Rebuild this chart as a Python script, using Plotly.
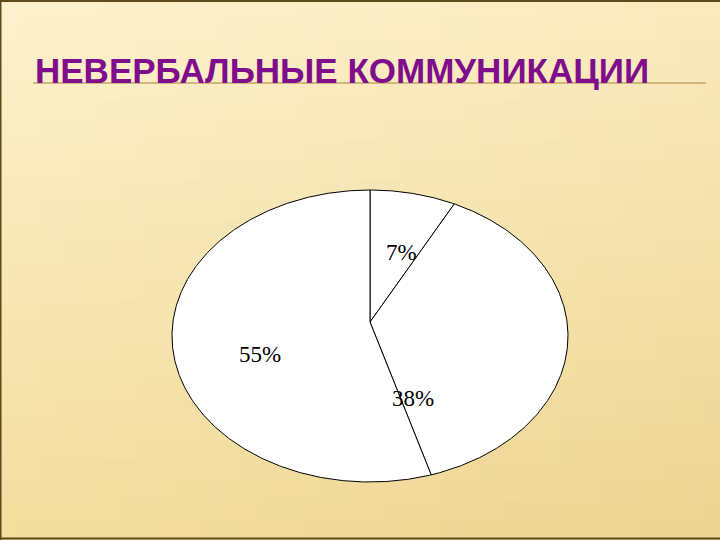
import numpy as np
import plotly.graph_objects as go

# ---- data ----
slice_labels = ["7%", "38%", "55%"]
slice_values = [7, 38, 55]
title_text = "НЕВЕРБАЛЬНЫЕ КОММУНИКАЦИИ"

# ---- geometry / style ----
W, H = 720, 540
CX, CY, RX, RY = 370, 336, 198, 146   # ellipse centre & radii in pixels
APEX_DY = 14                          # pie apex sits slightly above ellipse centre (perspective)


def px2x(px):
    return (px - CX) / RX


def py2y(py):
    return (CY - py) / RY


fig = go.Figure()

# slices, clockwise from 12 o'clock
cum = np.concatenate([[0], np.cumsum(slice_values)]) / sum(slice_values) * 360.0
apex_y = APEX_DY / RY
for i, (val, lab) in enumerate(zip(slice_values, slice_labels)):
    n = max(int((cum[i + 1] - cum[i]) * 2), 3)
    th = np.radians(np.linspace(cum[i], cum[i + 1], n))
    xs = np.concatenate([[0], np.sin(th), [0]])
    ys = np.concatenate([[apex_y], np.cos(th), [apex_y]])
    fig.add_trace(go.Scatter(
        x=xs, y=ys, mode="lines", fill="toself", fillcolor="white",
        line=dict(color="black", width=1), hoverinfo="skip", name=lab,
    ))

# label placement (pixel positions of label centres, style only)
label_pos_px = {"7%": (401, 252), "38%": (413, 398), "55%": (260, 354)}
for lab in slice_labels:
    lx, ly = label_pos_px[lab]
    fig.add_annotation(
        x=px2x(lx), y=py2y(ly), xref="x", yref="y", text=lab, showarrow=False,
        font=dict(family="Liberation Serif", size=23, color="black"),
        xanchor="center", yanchor="middle",
    )

# ---- background gradient (decoration) ----
TL = np.array([253, 242, 206])
TR = np.array([250, 234, 190])
BL = np.array([243, 221, 158])
BR = np.array([237, 212, 145])
shapes = []
NC, NR = 36, 27
for r in range(NR):
    for c in range(NC):
        u = (c + 0.5) / NC
        v = (r + 0.5) / NR
        col = (TL * (1 - u) * (1 - v) + TR * u * (1 - v) + BL * (1 - u) * v + BR * u * v)
        col = np.clip(col.round().astype(int), 0, 255)
        shapes.append(dict(
            type="rect", xref="paper", yref="paper", layer="below",
            x0=c / NC, x1=(c + 1) / NC + 0.002, y0=1 - (r + 1) / NR - 0.002, y1=1 - r / NR,
            line=dict(width=0), fillcolor="rgb(%d,%d,%d)" % tuple(col),
        ))

# title rule
shapes.append(dict(type="line", xref="paper", yref="paper", layer="below",
                   x0=33 / W, x1=706 / W, y0=1 - 83 / H, y1=1 - 83 / H,
                   line=dict(color="#C4A467", width=1.5)))
# slide frame
frame = "#5E4B1C"
shapes.append(dict(type="line", xref="paper", yref="paper", x0=0.5 / W, x1=0.5 / W, y0=0, y1=1,
                   line=dict(color=frame, width=2)))
shapes.append(dict(type="line", xref="paper", yref="paper", x0=0, x1=1, y0=1 - 1 / H, y1=1 - 1 / H,
                   line=dict(color=frame, width=2)))
shapes.append(dict(type="line", xref="paper", yref="paper", x0=0, x1=1, y0=1.5 / H, y1=1.5 / H,
                   line=dict(color=frame, width=2)))

fig.add_annotation(
    x=33 / W, y=1 - 70 / H, xref="paper", yref="paper", text="<b>%s</b>" % title_text,
    showarrow=False, xanchor="left", yanchor="middle",
    font=dict(family="Liberation Sans", size=35, color="#7E0E8C"),
)

fig.update_layout(
    width=W, height=H, margin=dict(l=0, r=0, t=0, b=0),
    paper_bgcolor="rgb(248,232,180)", plot_bgcolor="rgba(0,0,0,0)",
    showlegend=False, shapes=shapes,
    xaxis=dict(range=[px2x(0), px2x(W)], visible=False, domain=[0, 1], fixedrange=True),
    yaxis=dict(range=[py2y(H), py2y(0)], visible=False, domain=[0, 1], fixedrange=True),
)

fig.write_html(
    "out.html",
    config={"displayModeBar": False},
    post_script="document.body.style.margin='0';document.body.style.overflow='hidden';",
)
